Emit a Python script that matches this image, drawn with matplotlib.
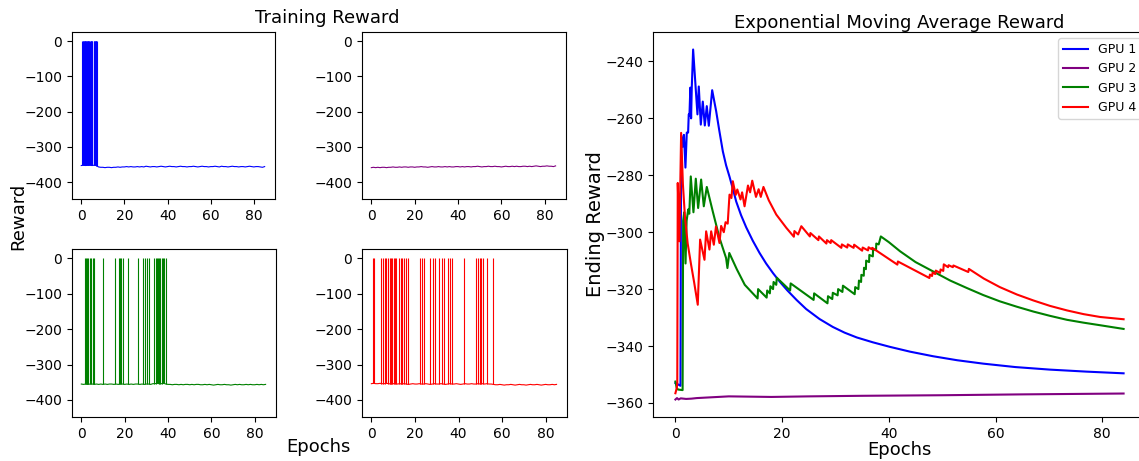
import numpy as np
import matplotlib
matplotlib.use("Agg")
import matplotlib.pyplot as plt

# ---- raw training reward: baseline readings (one per epoch) + spike epochs ----
blue_base = [-353, -352, -353, -352, -352, -353, -352, -353, -357, -358,
             -358, -359, -358, -358, -359, -358, -358, -357, -358, -357,
             -357, -356, -357, -356, -357, -357, -356, -357, -356, -357,
             -355, -356, -357, -356, -356, -357, -356, -355, -356, -357,
             -356, -355, -356, -356, -357, -356, -355, -356, -356, -357,
             -356, -356, -355, -356, -357, -356, -355, -356, -356, -357,
             -356, -356, -355, -356, -357, -355, -356, -356, -357, -356,
             -355, -356, -356, -357, -356, -356, -357, -356, -355, -356,
             -357, -356, -356, -357, -358, -356]
blue_spikes = [0.5, 0.7, 0.9, 1.1, 1.3, 1.5, 1.7, 1.9, 2.1, 2.3, 2.5, 2.7, 2.9,
               3.1, 3.3, 3.5, 3.7, 3.9, 4.3, 4.5, 4.7, 4.9, 5.1,
               5.8, 6.0, 6.2, 6.4, 6.6, 6.8, 7.0, 7.2]

purple_base = [-359, -358, -359, -358, -359, -358, -358, -359, -358, -358,
               -357, -358, -358, -357, -358, -357, -357, -358, -357, -357,
               -358, -357, -357, -356, -357, -357, -358, -357, -356, -357,
               -357, -356, -357, -357, -356, -357, -356, -357, -357, -356,
               -356, -357, -356, -357, -356, -356, -357, -356, -356, -355,
               -356, -357, -356, -356, -355, -356, -356, -355, -356, -356,
               -357, -356, -355, -356, -356, -355, -356, -355, -356, -356,
               -355, -355, -356, -355, -356, -355, -354, -355, -356, -355,
               -355, -354, -355, -355, -356, -354]
purple_spikes = []

green_base = [-355, -356, -355, -356, -355, -355, -356, -355, -356, -355,
              -356, -355, -356, -355, -355, -356, -355, -356, -355, -355,
              -356, -355, -356, -355, -356, -355, -355, -356, -355, -356,
              -355, -355, -356, -354, -354, -353, -354, -354, -353, -355,
              -356, -356, -357, -356, -356, -357, -356, -357, -356, -356,
              -357, -356, -357, -356, -356, -357, -357, -356, -357, -356,
              -357, -358, -357, -356, -357, -357, -356, -357, -357, -358,
              -357, -356, -357, -356, -357, -357, -356, -357, -356, -357,
              -357, -356, -357, -356, -357, -356]
green_spikes = [1.5, 2.0, 2.6, 3.2, 3.85, 4.6, 5.4, 6.0, 10.0, 15.5, 17.2, 17.8,
                18.4, 19.0, 21.6, 26.0, 28.6, 29.5, 30.5, 31.4, 33.7, 34.4, 34.8,
                35.3, 35.7, 36.3, 37.0, 37.6, 38.2, 39.1]

red_base = [-354, -353, -354, -354, -353, -354, -354, -353, -354, -355,
            -354, -354, -355, -354, -355, -354, -355, -356, -355, -354,
            -355, -355, -354, -355, -355, -354, -355, -356, -355, -354,
            -355, -355, -354, -355, -356, -355, -354, -355, -355, -354,
            -355, -356, -355, -354, -355, -355, -354, -355, -355, -354,
            -355, -354, -355, -354, -355, -355, -356, -357, -357, -356,
            -357, -358, -357, -357, -356, -357, -358, -357, -356, -357,
            -357, -358, -357, -356, -357, -357, -356, -357, -358, -357,
            -356, -357, -357, -356, -357, -356]
red_spikes = [0.75, 1.2, 4.6, 5.4, 6.1, 6.9, 7.7, 8.45, 9.2, 9.7, 10.3, 10.8,
              11.5, 12.6, 13.5, 14.1, 15.1, 15.8, 16.6, 22.3, 23.1, 24.1, 26.9,
              28.4, 29.2, 31.2, 32.3, 33.5, 35.1, 36.2, 36.9, 42.3, 48.2, 48.8,
              49.7, 50.3, 51.2, 53.1, 55.9]

# ---- exponential moving average of the ending reward ----
ema1_x = [0, 0.5, 0.95, 1.07, 1.35, 1.6, 1.88, 2.13, 2.38, 2.5, 2.63, 2.8, 2.94,
          3.07, 3.32, 3.63, 4.13, 4.38, 4.76, 5.13, 5.51, 5.88, 6.26, 6.89, 7.64,
          8.2, 8.89, 9.5, 10.14, 10.8, 11.39, 12.3, 13.27, 14.5, 15.77, 17.0,
          18.3, 19.6, 21.0, 22.7, 24.5, 27.0, 29.5, 31.7, 34.0, 37.0, 40.2,
          44.0, 48.3, 52.8, 57.7, 63.7, 70.2, 77.0, 84.0]
ema1_y = [-353, -353.5, -354, -266, -270, -265.8, -277.3, -265, -265, -258.6,
          -259, -249.2, -260, -249, -235.8, -244.6, -258.6, -248.8, -262.2,
          -254.1, -262.5, -255.7, -262.6, -250.1, -257.5, -264, -271.6, -276.5,
          -280.5, -285, -289.2, -294, -298.3, -303, -307.3, -311, -314.4,
          -317.5, -320.5, -323.8, -327, -330.5, -333.3, -335.3, -337, -338.7,
          -340.3, -342, -343.6, -345, -346.2, -347.4, -348.3, -349, -349.6]

ema2_x = [0, 0.3, 0.6, 1, 2, 3, 4, 6, 8, 10, 14, 18, 25, 35, 50, 65, 84]
ema2_y = [-358.8, -358.3, -358.8, -358.4, -358.6, -358.5, -358.3, -358.1,
          -357.9, -357.7, -357.8, -357.9, -357.7, -357.5, -357.3, -357.0, -356.7]

ema3_x = [0, 0.25, 0.5, 1.35, 1.45, 1.65, 1.9, 2.1, 2.4, 2.6, 2.88, 3.38, 3.82,
          4.26, 4.82, 5.32, 5.88, 7.0, 8.26, 9.5, 9.75, 10.1, 11.5, 13.0, 15.4,
          15.5, 17.1, 17.2, 17.7, 17.8, 18.3, 18.4, 18.9, 19.0, 21.5, 21.6,
          25.9, 26.0, 28.5, 28.6, 29.4, 29.5, 30.4, 30.5, 31.3, 31.4, 33.6,
          33.7, 34.3, 34.4, 34.8, 34.85, 35.3, 35.35, 35.7, 35.75, 36.3, 36.35,
          37.0, 37.05, 37.6, 37.65, 38.1, 38.5, 40.0, 42.1, 45.0, 48.3, 51.5,
          54.6, 57.7, 60.8, 64.0, 67.1, 70.2, 73.4, 76.5, 79.6, 84.0]
ema3_y = [-352.5, -354.8, -355.3, -355.5, -296, -293, -311, -296, -292, -293.5,
          -280.4, -293, -281.2, -291.5, -281.5, -290.9, -284.1, -292.7, -302,
          -309.1, -312.6, -307.3, -313, -318.5, -323.3, -320, -323, -320.5,
          -321.5, -319, -320, -317.5, -318.5, -316, -320.5, -318, -323.8,
          -321.5, -325, -322.5, -323.5, -321.3, -322.2, -320, -321, -318.8,
          -321.8, -319.3, -320, -317, -317.5, -315, -315.3, -312.5, -313, -310,
          -310.5, -308, -308.5, -306, -306.3, -304, -304.3, -301.5, -303.5,
          -306.7, -310.5, -313.8, -317, -319.6, -322.1, -324.3, -326.2, -327.9,
          -329.4, -330.8, -331.8, -332.7, -334]

ema4_x = [0, 0.25, 0.35, 0.44, 0.75, 1.07, 1.4, 1.8, 2.3, 2.9, 3.5, 4.19, 4.63,
          5.45, 5.76, 6.38, 6.7, 7.2, 7.6, 8.26, 8.57, 9.07, 9.4, 9.8, 10.14,
          10.5, 10.76, 11.3, 11.6, 12.2, 12.5, 12.96, 13.6, 14.0, 14.4, 15.1,
          15.6, 16.0, 16.5, 17.5, 18.9, 20.8, 22.2, 22.3, 23.0, 23.6, 25.2,
          25.3, 26.8, 26.9, 28.3, 28.4, 29.1, 29.2, 31.1, 31.2, 32.2, 32.3,
          33.4, 33.5, 35.0, 35.1, 36.1, 36.2, 36.8, 36.9, 41.6, 41.7, 47.6,
          47.7, 48.1, 48.2, 48.7, 48.8, 49.6, 49.7, 50.2, 50.3, 51.1, 51.2,
          52.0, 52.1, 54.9, 55.0, 57.8, 60.8, 64.0, 67.1, 70.2, 73.4, 76.5,
          79.6, 84.0]
ema4_y = [-356.6, -354.8, -353, -282.7, -303.2, -265.1, -283, -295, -304, -311,
          -317.5, -325.5, -302.6, -309.7, -299.7, -306.1, -299.7, -304.4, -298,
          -303.8, -297.8, -300, -296.5, -297, -286.8, -288, -282.1, -286.9,
          -285, -288.5, -286, -290.9, -283.6, -286, -281.9, -287.6, -284.9,
          -287.6, -284.1, -288.8, -293.8, -298.5, -301.6, -299.6, -300.8,
          -297.9, -301.5, -300.3, -302.8, -301.5, -304, -302.8, -303.8, -302.8,
          -305.5, -304.3, -305.4, -304.3, -305.5, -304.4, -306.5, -305.4,
          -306.4, -305.3, -306, -305.5, -311.4, -310.3, -316.1, -314.9, -315.4,
          -314.2, -314.7, -313.5, -314.3, -313.1, -313.6, -311.3, -312.3,
          -311.6, -312.3, -311.7, -314, -312.9, -316.3, -319.3, -321.9, -324,
          -325.9, -327.5, -328.8, -329.8, -330.6]

W, H = 1139, 461


def box(left, top, right, bottom):
    return [left / W, 1 - bottom / H, (right - left) / W, (bottom - top) / H]


def main():
    fig = plt.figure(figsize=(W / 100, H / 100), dpi=100)

    small = [
        (box(72, 32, 275, 199), blue_base, blue_spikes, 'blue'),
        (box(362, 32, 566, 199), purple_base, purple_spikes, 'purple'),
        (box(72, 249, 276, 417), green_base, green_spikes, 'green'),
        (box(362, 249, 567, 417), red_base, red_spikes, 'red'),
    ]
    for pos, base, spikes, color in small:
        ax = fig.add_axes(pos)
        epochs = np.arange(len(base))
        ax.plot(epochs, base, color=color, lw=0.8)
        if spikes:
            lows = np.interp(spikes, epochs, base)
            ax.vlines(spikes, lows, 0, color=color, lw=0.8)
        ax.set_xlim(-4.3, 89.8)
        ax.set_ylim(-448, 26)
        ax.set_xticks([0, 20, 40, 60, 80])

    fig.text(327 / W, 1 - 18 / H, 'Training Reward', ha='center', va='center', fontsize=13)
    fig.text(18 / W, 1 - 216 / H, 'Reward', ha='center', va='center', rotation=90, fontsize=13)
    fig.text(318 / W, 1 - 447 / H, 'Epochs', ha='center', va='center', fontsize=13)

    ax = fig.add_axes(box(653, 32, 1146, 417))
    ax.plot(ema1_x, ema1_y, color='blue', label='GPU 1')
    ax.plot(ema2_x, ema2_y, color='purple', label='GPU 2')
    ax.plot(ema3_x, ema3_y, color='green', label='GPU 3')
    ax.plot(ema4_x, ema4_y, color='red', label='GPU 4')
    ax.set_title('Exponential Moving Average Reward', fontsize=13, pad=3)
    ax.set_xlabel('Epochs', fontsize=13, labelpad=0)
    ax.set_ylabel('Ending Reward', fontsize=14, labelpad=0)
    ax.legend(loc='upper right', fontsize=9, bbox_to_anchor=(1.004, 1.0))

    fig.savefig('out.png', dpi=100)


if __name__ == '__main__':
    main()
